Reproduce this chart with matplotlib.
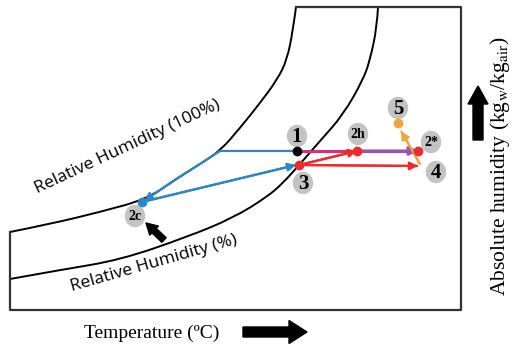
import numpy as np
import matplotlib.pyplot as plt
from matplotlib.patches import Ellipse, PathPatch, FancyArrowPatch
from matplotlib.path import Path

# psychrometric sketch, coordinates in drawing units (x right, y down)
sat_x = [10, 50, 100, 147, 173, 200, 220, 240, 260, 277, 287, 293, 296]
sat_y = [232, 224, 212, 199, 181, 164, 151, 128, 103, 80, 60, 30, 7]

rh_x = [10, 60, 120, 187, 233, 267, 283, 300, 320, 343, 363, 370, 377, 378]
rh_y = [279, 270, 260, 237, 218, 197, 183, 164, 141, 115, 80, 60, 27, 7]

# state points
names = ['1', '2h', '2*', '3', '4', '5', '2c']
pt_x = [297, 357, 418, 299, 418, 398, 142]
pt_y = [151, 151, 151, 165, 166, 123, 202]
pt_col = ['black', '#ee2b2b', '#ee2b2b', '#ee2b2b', None, '#f4a23a', '#2d86c9']

# label bubbles
lab_x = [297, 358, 431, 303, 436, 398, 135]
lab_y = [136, 134, 142, 183, 172, 108, 216]
lab_size = [15, 10, 10, 15, 15, 15, 10]

blue = '#2d86c9'
red = '#ee2b2b'
pink = '#dc2f6e'
purple = '#9c4fb5'
orange = '#f4a23a'


def smooth_path(xs, ys):
    # quadratic b-spline through the midpoints of the control polygon
    p = list(zip(xs, ys))
    verts = [p[0]]
    codes = [Path.MOVETO]
    n = len(p)
    for i in range(1, n - 1):
        if i < n - 2:
            end = ((p[i][0] + p[i + 1][0]) / 2, (p[i][1] + p[i + 1][1]) / 2)
        else:
            end = p[-1]
        verts += [p[i], end]
        codes += [Path.CURVE3, Path.CURVE3]
    return Path(verts, codes)


fig = plt.figure(figsize=(5.13, 3.46), dpi=100)
ax = fig.add_axes([0, 0, 1, 1])
ax.set_xlim(0, 513)
ax.set_ylim(346, 0)
ax.axis('off')

# frame
edge = '#333333'
ax.plot([10, 10, 461, 461, 296], [232, 310, 310, 7, 7], color=edge, lw=1.6)

for xs, ys in [(sat_x, sat_y), (rh_x, rh_y)]:
    ax.add_patch(PathPatch(smooth_path(xs, ys), fill=False, ec='black', lw=1.4))


def arrow_line(xs, ys, color, lw=1.6):
    ax.plot(xs, ys, color=color, lw=lw, solid_capstyle='butt')
    ax.annotate('', xy=(xs[-1], ys[-1]), xytext=(xs[-2], ys[-2]),
                arrowprops=dict(arrowstyle='-|>', color=color, lw=lw,
                                mutation_scale=12, shrinkA=0, shrinkB=0))


# cooling along the saturation line to 2c, then back to 3
ax.plot([220, pt_x[0]], [151, pt_y[0]], color=blue, lw=1.6)
cool_x = [220, 200, 173, pt_x[6] + 2]
cool_y = [151, 164, 181, pt_y[6] - 1]
ax.add_patch(FancyArrowPatch(path=smooth_path(cool_x, cool_y), arrowstyle='-|>',
                             mutation_scale=12, color=blue, lw=1.6, zorder=3))
arrow_line([pt_x[6], pt_x[3] - 3], [pt_y[6], pt_y[3]], blue)

# heating paths
ax.plot([pt_x[0], pt_x[1]], [pt_y[0], pt_y[1]], color=pink, lw=2.2)
arrow_line([pt_x[3], pt_x[1]], [pt_y[3], pt_y[1]], red)
arrow_line([pt_x[1], pt_x[2]], [pt_y[1], pt_y[2]], purple, lw=2.2)
arrow_line([pt_x[3], pt_x[4]], [pt_y[3], pt_y[4]], red)
arrow_line([pt_x[4] + 2, pt_x[5] + 3], [pt_y[4] - 2, pt_y[5] + 8], orange)

for x, y, c in zip(pt_x, pt_y, pt_col):
    if c is not None:
        ax.plot(x, y, 'o', color=c, ms=6, zorder=5)

for name, x, y, fs in zip(names, lab_x, lab_y, lab_size):
    ax.add_patch(Ellipse((x, y), 19, 21, color='#c3c3c3', zorder=4))
    ax.text(x, y + 1, name, ha='center', va='center', fontsize=fs,
            fontweight='bold', family='Liberation Serif', zorder=6)

# pointer to 2c
ax.annotate('', xy=(146, 223), xytext=(164, 240),
            arrowprops=dict(arrowstyle='simple,head_width=0.9,head_length=0.8,tail_width=0.45',
                            color='black', mutation_scale=10, shrinkA=0, shrinkB=0))

# axis direction arrows
ax.arrow(243, 332, 46, 0, width=10, head_width=23, head_length=18,
         color='black', length_includes_head=False)
ax.arrow(478, 140, 0, -36, width=10, head_width=20, head_length=18,
         color='black', length_includes_head=False)

ax.text(127, 147, 'Relative Humidity (100%)', rotation=25, ha='center', va='center',
        fontsize=12.6, family='Open Sans')
ax.text(154, 264, 'Relative Humidity (%)', rotation=16, ha='center', va='center',
        fontsize=12.6, family='Open Sans')
ax.text(152, 333, 'Temperature (ºC)', ha='center', va='center',
        fontsize=14, family='Liberation Serif')
plt.rcParams['mathtext.fontset'] = 'stix'
ax.text(500, 166, r'Absolute humidity (kg$_{\mathrm{w}}$/kg$_{\mathrm{air}}$)',
        rotation=90, ha='center', va='center', fontsize=15.5, family='Liberation Serif')

fig.savefig('out.png', dpi=100)
